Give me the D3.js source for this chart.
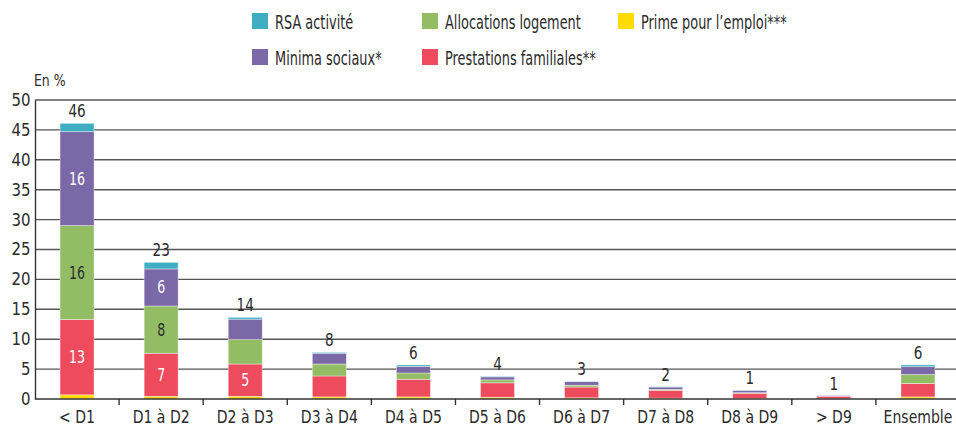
<!DOCTYPE html>
<html><head><meta charset="utf-8">
<script src="https://cdn.jsdelivr.net/npm/d3@7"></script>
<style>
body{margin:0;background:#fff;}
svg text{font-family:"DejaVu Sans",sans-serif;fill:#2b2b2b;}
</style></head><body>
<svg id="c" width="956" height="428"></svg>
<script>
const categories = ["< D1","D1 à D2","D2 à D3","D3 à D4","D4 à D5","D5 à D6","D6 à D7","D7 à D8","D8 à D9","> D9","Ensemble"];
const prime        = [0.7, 0.45, 0.45, 0.35, 0.35, 0.3, 0.2, 0.15, 0.1, 0.05, 0.35];
const prestations  = [12.6, 7.2, 5.4, 3.5, 2.95, 2.4, 1.8, 1.3, 0.85, 0.4, 2.25];
const allocations  = [15.7, 7.9, 4.1, 2.0, 1.05, 0.5, 0.3, 0.15, 0.1, 0.0, 1.5];
const minima       = [15.7, 6.2, 3.4, 1.8, 1.1, 0.5, 0.6, 0.4, 0.35, 0.1, 1.3];
const rsa          = [1.4, 1.1, 0.3, 0.15, 0.25, 0.1, 0.05, 0.05, 0.05, 0.0, 0.3];
const yTicks = [0,5,10,15,20,25,30,35,40,45,50];

const series = [
  {key:"prime", name:"Prime pour l’emploi***", values:prime, color:"#ffdc00", text:"#2b2b2b"},
  {key:"prestations", name:"Prestations familiales**", values:prestations, color:"#ef4b5f", text:"#fff"},
  {key:"allocations", name:"Allocations logement", values:allocations, color:"#93bd64", text:"#2b2b2b"},
  {key:"minima", name:"Minima sociaux*", values:minima, color:"#7b68a6", text:"#fff"},
  {key:"rsa", name:"RSA activité", values:rsa, color:"#3fadc2", text:"#fff"}
];
const rows = categories.map((c,i)=>{const r={cat:c}; series.forEach(s=>r[s.key]=s.values[i]); return r;});
const stack = d3.stack().keys(series.map(s=>s.key))(rows);

const svg = d3.select("#c");
const x = d3.scaleBand().domain(categories).range([35,960]).padding(0);
const y = d3.scaleLinear().domain([0,50]).range([399,100]);
const bw = 34;

function ctext(parent, px, py, size, sx, str, anchor){
  return parent.append("text")
    .attr("transform",`translate(${px},${py}) scale(${sx},1)`)
    .attr("font-size",size).attr("text-anchor",anchor||"start").text(str);
}

// grid
svg.append("g").selectAll("line").data(yTicks.filter(t=>t>0)).join("line")
  .attr("x1",35).attr("x2",956).attr("y1",d=>y(d)).attr("y2",d=>y(d))
  .attr("stroke","#555").attr("stroke-width",1.4);

// y axis
const ya = svg.append("g").attr("transform","translate(35,0)")
  .call(d3.axisLeft(y).tickValues(yTicks).tickSize(0).tickPadding(5));
ya.select(".domain").attr("stroke","#333").attr("stroke-width",1.4);
ya.selectAll("text").attr("font-size",17).attr("fill","#2b2b2b")
  .attr("transform","scale(0.88,1)")
  .style("font-family",'"DejaVu Sans",sans-serif');

// bars
const g = svg.append("g");
stack.forEach((layer,li)=>{
  const s = series[li];
  g.append("g").selectAll("rect").data(layer).join("rect")
    .attr("x",d=>x(d.data.cat)+x.bandwidth()/2-bw/2)
    .attr("width",bw)
    .attr("y",d=>y(d[1]))
    .attr("height",d=>Math.max(0,y(d[0])-y(d[1])))
    .attr("fill",s.color)
    .attr("stroke","rgba(255,255,255,0.55)").attr("stroke-width",0.7);
  const lg = g.append("g");
  layer.filter(d=>d[1]-d[0]>=5).forEach(d=>{
    ctext(lg, x(d.data.cat)+x.bandwidth()/2, (y(d[0])+y(d[1]))/2+6, 17, 0.74, Math.round(d[1]-d[0]), "middle")
      .style("fill",s.text);
  });
});

// totals
const totals = categories.map((c,i)=>({cat:c,t:d3.sum(series,s=>s.values[i])}));
const tg = svg.append("g");
totals.forEach(d=>{
  ctext(tg, x(d.cat)+x.bandwidth()/2, y(d.t)-6, 17, 0.8, Math.round(d.t), "middle");
});

// x axis
const xa = svg.append("g").attr("transform","translate(0,399)")
  .call(d3.axisBottom(x).tickSize(0).tickPadding(0));
xa.select(".domain").remove();
xa.selectAll("text").attr("font-size",18).attr("fill","#2b2b2b")
  .attr("y",24).attr("dy",0)
  .attr("transform","scale(0.78,1)")
  .style("font-family",'"DejaVu Sans",sans-serif');
svg.append("line").attr("x1",35).attr("x2",956).attr("y1",399).attr("y2",399)
  .attr("stroke","#333").attr("stroke-width",1.4);
svg.append("g").selectAll("line").data(categories.slice(1)).join("line")
  .attr("x1",d=>x(d)).attr("x2",d=>x(d)).attr("y1",399).attr("y2",405)
  .attr("stroke","#333").attr("stroke-width",1.4);

// y title
ctext(svg, 34, 86, 16, 0.78, "En %");

// legend
const legend = [
  {s:series[4], x:252, y:13},
  {s:series[2], x:422, y:13},
  {s:series[0], x:618, y:13},
  {s:series[3], x:252, y:49},
  {s:series[1], x:422, y:49}
];
const lgd = svg.append("g");
legend.forEach(l=>{
  lgd.append("rect").attr("x",l.x).attr("y",l.y).attr("width",16).attr("height",16).attr("fill",l.s.color);
  ctext(lgd, l.x+23, l.y+16, 19, 0.68, l.s.name);
});
</script></body></html>
